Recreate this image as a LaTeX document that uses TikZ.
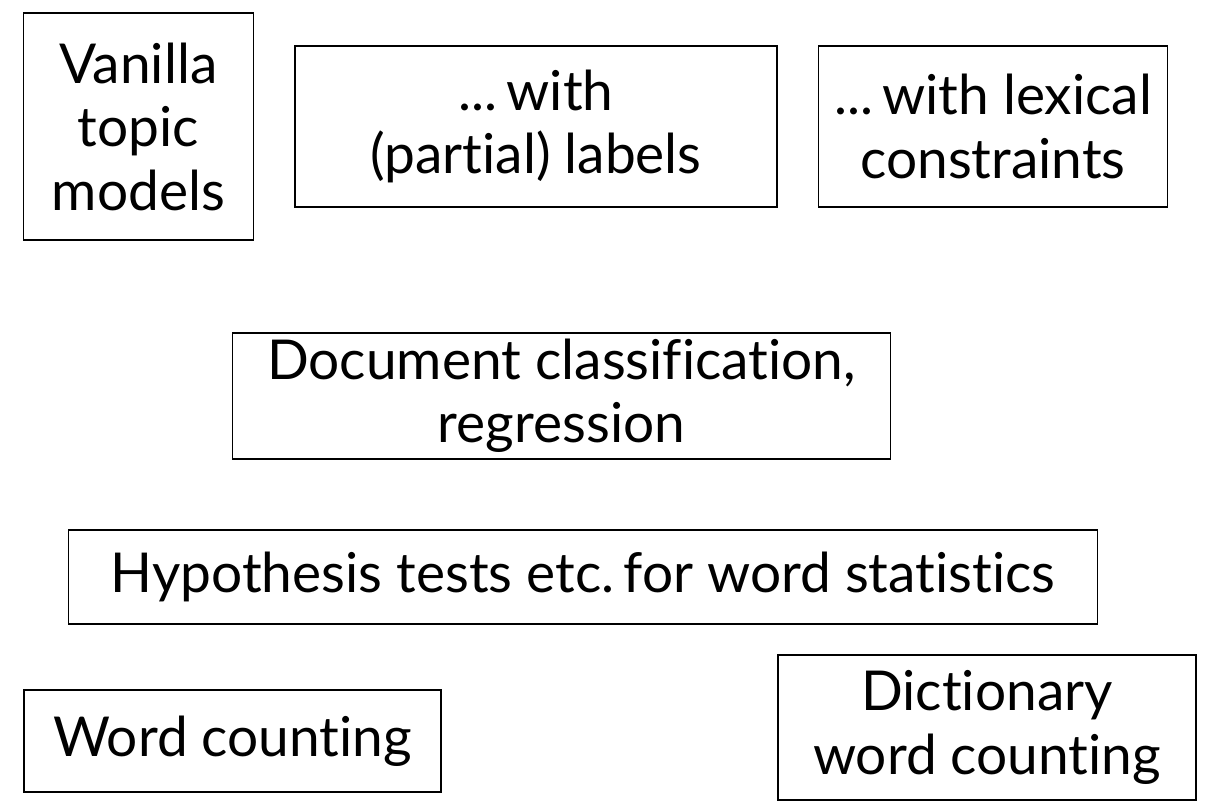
\documentclass[tikz,border=0pt]{standalone}
\usepackage{fontspec}
\setmainfont{Lato}[Ligatures={NoCommon}]
\begin{document}
\begin{tikzpicture}[x=1pt,y=-1pt,
  box/.style={draw=black, line width=1.6pt, align=center, inner sep=0pt,
    font=\fontsize{55}{63.5}\selectfont}]
\useasboundingbox (0,0) rectangle (1212,810);
\node[box, minimum width=230, minimum height=227] (vanilla) at (138.5,126.5) {Vanilla\\topic\\models};
\node[box, minimum width=482, minimum height=161] (partial) at (536,126.5) {...\,with\\(partial) labels};
\node[box, minimum width=349, minimum height=161] (lexical) at (993,126.5) {...\,with lexical\\constraints};
\node[box, minimum width=658, minimum height=126] (doc) at (561.5,396) {Document classification,\\regression};
\node[box, minimum width=1029, minimum height=94] (hyp) at (583,577) {Hypothesis tests etc.\,for word statistics};
\node[box, minimum width=417, minimum height=102] (word) at (232.5,741) {Word counting};
\node[box, minimum width=418, minimum height=145] (dict) at (987,727.5) {Dictionary\\word counting};
\end{tikzpicture}
\end{document}
